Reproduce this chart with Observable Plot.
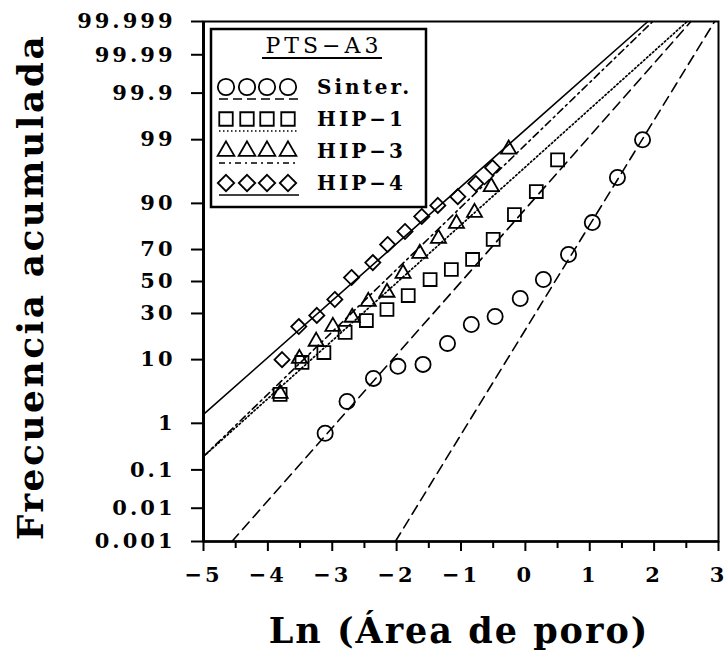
<!DOCTYPE html>
<html>
<head>
<meta charset="utf-8">
<script src="https://cdn.jsdelivr.net/npm/d3@7"></script>
<script src="https://cdn.jsdelivr.net/npm/@observablehq/plot@0.6"></script>
<style>
  html, body { margin: 0; padding: 0; background: white; }
  #chart svg text { letter-spacing: 3px; }
</style>
</head>
<body>
<div id="chart"></div>
<script>
// ---------- data ----------
const sinterX = [-3.11, -2.77, -2.36, -1.98, -1.59, -1.21, -0.84, -0.47, -0.08, 0.28, 0.67, 1.04, 1.43, 1.82];
const sinterP = [0.64, 2.46, 5.6, 8.2, 8.7, 15.5, 24.0, 28.3, 39.0, 51.3, 67.1, 83.3, 95.6, 99.0];

const hip1X = [-3.81, -3.47, -3.13, -2.80, -2.47, -2.15, -1.82, -1.48, -1.15, -0.82, -0.50, -0.17, 0.17, 0.50];
const hip1P = [3.2, 9.2, 12.2, 20.2, 26.1, 32.3, 40.9, 51.3, 57.8, 64.1, 75.5, 86.4, 93.0, 97.7];

const hip3X = [-3.81, -3.51, -3.25, -2.99, -2.69, -2.44, -2.15, -1.90, -1.64, -1.35, -1.07, -0.79, -0.53, -0.26];
const hip3P = [3.3, 10.3, 16.3, 23.0, 27.8, 37.1, 42.9, 55.2, 67.7, 76.0, 82.9, 87.1, 94.0, 98.5];

const hip4X = [-3.78, -3.52, -3.24, -2.96, -2.70, -2.37, -2.14, -1.87, -1.61, -1.36, -1.05, -0.77, -0.51];
const hip4P = [10.0, 23.0, 28.9, 38.4, 52.6, 62.2, 72.8, 79.4, 85.7, 89.4, 91.8, 94.6, 96.9];

// fitted normal lines on probability paper: mean and sd of Ln(area)
const fitNames = ["Sinter. a", "Sinter. b", "HIP-1", "HIP-3", "HIP-4"];
const fitMu    = [-0.994, 0.460, -1.978, -2.193, -2.665];
const fitSigma = [0.836, 0.5815, 1.053, 0.978, 1.071];

const xTicks = [-5, -4, -3, -2, -1, 0, 1, 2, 3];
const xMinorTicks = [-4.5, -3.5, -2.5, -1.5, -0.5, 0.5, 1.5, 2.5];
const yTickP = [0.001, 0.01, 0.1, 1, 10, 30, 50, 70, 90, 99, 99.9, 99.99, 99.999];
const yTickLabels = ["0.001", "0.01", "0.1", "1", "10", "30", "50", "70", "90", "99", "99.9", "99.99", "99.999"];

const legendTitle = "PTS\u2212A3";
const legendLabels = ["Sinter.", "HIP\u22121", "HIP\u22123", "HIP\u22124"];

// ---------- helpers ----------
function probit(p) {
  const a = [-3.969683028665376e+01, 2.209460984245205e+02, -2.759285104469687e+02, 1.383577518672690e+02, -3.066479806614716e+01, 2.506628277459239e+00];
  const b = [-5.447609879822406e+01, 1.615858368580409e+02, -1.556989798598866e+02, 6.680131188771972e+01, -1.328068155288572e+01];
  const c = [-7.784894002430293e-03, -3.223964580411365e-01, -2.400758277161838e+00, -2.549671348416979e+00, 4.374664141464968e+00, 2.938163982698783e+00];
  const d = [7.784695709041462e-03, 3.224671290700398e-01, 2.445134137142996e+00, 3.754408661907416e+00];
  const pl = 0.02425, ph = 1 - pl;
  let q, r;
  if (p < pl) {
    q = Math.sqrt(-2 * Math.log(p));
    return (((((c[0]*q + c[1])*q + c[2])*q + c[3])*q + c[4])*q + c[5]) / ((((d[0]*q + d[1])*q + d[2])*q + d[3])*q + 1);
  } else if (p <= ph) {
    q = p - 0.5; r = q*q;
    return (((((a[0]*r + a[1])*r + a[2])*r + a[3])*r + a[4])*r + a[5])*q / (((((b[0]*r + b[1])*r + b[2])*r + b[3])*r + b[4])*r + 1);
  } else {
    q = Math.sqrt(-2 * Math.log(1 - p));
    return -(((((c[0]*q + c[1])*q + c[2])*q + c[3])*q + c[4])*q + c[5]) / ((((d[0]*q + d[1])*q + d[2])*q + d[3])*q + 1);
  }
}
const zOf = pct => probit(pct / 100);
const zMin = zOf(yTickP[0]), zMax = zOf(yTickP[yTickP.length - 1]);
const xDomain = [xTicks[0], xTicks[xTicks.length - 1]];

const pts = (xs, ps) => xs.map((x, i) => ({x, z: zOf(ps[i])}));
const sinter = pts(sinterX, sinterP);
const hip1 = pts(hip1X, hip1P);
const hip3 = pts(hip3X, hip3P);
const hip4 = pts(hip4X, hip4P);

function fitLine(i) {
  const mu = fitMu[i], s = fitSigma[i];
  const xa = Math.max(xDomain[0], mu + s * zMin);
  const xb = Math.min(xDomain[1], mu + s * zMax);
  return [xa, xb].map(x => ({x, z: (x - mu) / s}));
}
const dashes = ["10,6", "10,6", "1.5,2.5", "7,4,2,4", null];

const marks = [];
fitNames.forEach((n, i) => {
  marks.push(Plot.line(fitLine(i), {x: "x", y: "z", stroke: "black", strokeWidth: i === 2 ? 1.7 : 1.6, strokeDasharray: dashes[i]}));
});
const dotStyle = {x: "x", y: "z", stroke: "black", fill: "none", strokeWidth: 1.8};
marks.push(Plot.dot(sinter, {...dotStyle, symbol: "circle", r: 7.6}));
marks.push(Plot.dot(hip1, {...dotStyle, symbol: "square", r: 7.3}));
marks.push(Plot.dot(hip3, {...dotStyle, symbol: "triangle", r: 5.6}));
marks.push(Plot.dot(hip4, {...dotStyle, symbol: "diamond2", r: 6.8}));

marks.push(Plot.frame({stroke: "black", strokeWidth: 2}));
marks.push(Plot.ruleX([xDomain[0]], {stroke: "black", strokeWidth: 3}));
marks.push(Plot.ruleY([zMin], {stroke: "black", strokeWidth: 2.5}));

marks.push(Plot.axisX({ticks: xTicks, tickSize: 10, tickPadding: 16, strokeWidth: 2, label: null,
  tickFormat: d => d < 0 ? "\u2212" + Math.abs(d) : String(d)}));
marks.push(Plot.axisX({ticks: xMinorTicks, tickSize: 7, strokeWidth: 2, label: null, tickFormat: () => ""}));
marks.push(Plot.axisY({ticks: yTickP.map(zOf), tickSize: 12, tickPadding: 16, strokeWidth: 2, label: null,
  tickFormat: (d, i) => yTickLabels[i]}));

const chart = Plot.plot({
  width: 728,
  height: 652,
  marginLeft: 203,
  marginRight: 10,
  marginTop: 21,
  marginBottom: 111,
  x: {domain: xDomain},
  y: {domain: [zMin, zMax]},
  style: {fontFamily: "'DejaVu Serif', serif", fontSize: "21px", fontWeight: "bold", color: "black", background: "white", overflow: "visible"},
  marks
});

// ---------- titles & legend ----------
const svg = d3.select(chart);
const font = "'DejaVu Serif', serif";

svg.append("text")
  .attr("transform", "translate(43,287) rotate(-90)")
  .attr("text-anchor", "middle")
  .style("font-family", font).style("font-size", "36px").style("font-weight", "bold").style("letter-spacing", "2.5px")
  .attr("fill", "black")
  .text("Frecuencia acumulada");

svg.append("text")
  .attr("x", 459).attr("y", 643)
  .attr("text-anchor", "middle")
  .style("font-family", font).style("font-size", "35px").style("font-weight", "bold").style("letter-spacing", "2px")
  .attr("fill", "black")
  .text("Ln (\u00C1rea de poro)");

const lg = svg.append("g").attr("text-anchor", "start");
lg.append("rect").attr("x", 211).attr("y", 29).attr("width", 215).attr("height", 178)
  .attr("fill", "white").attr("stroke", "black").attr("stroke-width", 2.5);
lg.append("text").attr("x", 324).attr("y", 53).attr("text-anchor", "middle")
  .style("font-family", font).style("font-size", "22px").style("font-weight", "normal").style("letter-spacing", "4px")
  .attr("fill", "black").text(legendTitle);
lg.append("line").attr("x1", 262).attr("x2", 382).attr("y1", 58).attr("y2", 58)
  .attr("stroke", "black").attr("stroke-width", 2);

const legSymbols = [d3.symbolCircle, d3.symbolSquare, d3.symbolTriangle, d3.symbolDiamond2];
const legR = [8.2, 7.6, 6.2, 7.4];
const legDash = ["9,5", "1.5,2.5", "6,4,2,4", null];
const rowBase = [94, 126, 158, 190];
legendLabels.forEach((lab, i) => {
  const yb = rowBase[i];
  [226, 247, 267, 288].forEach(cx => {
    lg.append("path")
      .attr("d", d3.symbol(legSymbols[i], Math.PI * legR[i] * legR[i])())
      .attr("transform", `translate(${cx},${yb - 7})`)
      .attr("fill", "none").attr("stroke", "black").attr("stroke-width", 1.8);
  });
  lg.append("line").attr("x1", 219).attr("x2", 299).attr("y1", yb + 5).attr("y2", yb + 5)
    .attr("stroke", "black").attr("stroke-width", 1.6)
    .attr("stroke-dasharray", legDash[i]);
  lg.append("text").attr("x", 317).attr("y", yb).attr("text-anchor", "start")
    .style("font-family", font).style("font-size", "20px").style("font-weight", "bold").style("letter-spacing", "3px")
    .attr("fill", "black").text(lab);
});

document.getElementById("chart").appendChild(chart);
</script>
</body>
</html>
